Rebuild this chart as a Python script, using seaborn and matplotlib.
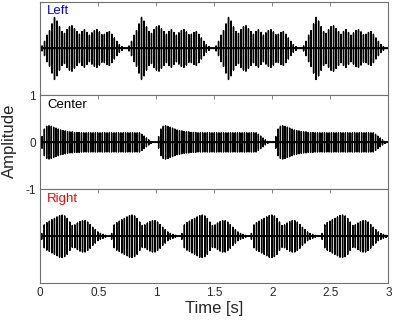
import numpy as np
import pandas as pd
import matplotlib
matplotlib.use("Agg")
import matplotlib.pyplot as plt
import seaborn as sns

# ---- data (per-pulse peak amplitudes of one burst, burst onsets) ----
left_onsets = [0.015, 0.765, 1.515, 2.27]
left_step = 0.0215
left_amps = [0.05, 0.15, 0.28, 0.38, 0.52, 0.66, 0.58, 0.46, 0.36, 0.32, 0.40, 0.46,
             0.48, 0.42, 0.36, 0.30, 0.36, 0.40, 0.34, 0.28, 0.33, 0.38, 0.40, 0.35,
             0.29, 0.30, 0.34, 0.36, 0.30, 0.22, 0.15, 0.08, 0.04]

center_onsets = [0.015, 1.02, 2.03]
center_step = 0.02
center_amps = [0.12, 0.28, 0.34, 0.35, 0.34, 0.32, 0.30, 0.28, 0.26, 0.25, 0.24, 0.23,
               0.22, 0.22, 0.21, 0.21, 0.21, 0.20, 0.20, 0.20, 0.20, 0.20, 0.20, 0.20,
               0.20, 0.20, 0.20, 0.20, 0.20, 0.20, 0.20, 0.20, 0.20, 0.20, 0.20, 0.20,
               0.20, 0.20, 0.20, 0.20, 0.20, 0.20, 0.20, 0.17, 0.13, 0.09, 0.05, 0.02]

right_onsets = [0.012, 0.615, 1.22, 1.82, 2.43]
right_step = 0.022
right_amps = [0.06, 0.24, 0.29, 0.32, 0.35, 0.38, 0.41, 0.44, 0.45, 0.43, 0.38, 0.30,
              0.23, 0.24, 0.28, 0.31, 0.33, 0.33, 0.30, 0.25, 0.19, 0.14, 0.09, 0.06,
              0.04, 0.02]

panel_names = ["Left", "Center", "Right"]
panel_colors = ["#0000ff", "#000000", "#ff0000"]
x_ticks = [0, 0.5, 1, 1.5, 2, 2.5, 3]
x_ticklabels = ["0", "0.5", "1", "1.5", "2", "2.5", "3"]
y_ticks = [-1, 0, 1]
y_ticklabels = ["-1", "0", "1"]
t_end = 3.0


def build(onsets, amps, step):
    t, y = [0.0], [0.0]
    for o in onsets:
        for k, a in enumerate(amps):
            tk = o + k * step
            t += [tk, tk, tk, tk]
            y += [0.0, a, -a, 0.0]
    t.append(t_end)
    y.append(0.0)
    return pd.DataFrame({"t": t, "y": y})


frames = [build(left_onsets, left_amps, left_step),
          build(center_onsets, center_amps, center_step),
          build(right_onsets, right_amps, right_step)]

sns.set_style("white")
plt.rcParams["font.family"] = ["Liberation Sans", "DejaVu Sans"]
plt.rcParams["path.simplify"] = False

fig = plt.figure(figsize=(3.97, 3.26), dpi=100)
left = 40.3 / 397
width = 348 / 397
bottom0 = 1 - 283.3 / 326
h = (283.3 - 1.5) / 3 / 326
spine_col = "#707070"

for i, (df, name, col) in enumerate(zip(frames, panel_names, panel_colors)):
    ax = fig.add_axes([left, bottom0 + (2 - i) * h, width, h])
    sns.lineplot(data=df, x="t", y="y", ax=ax, color="black", lw=1.0,
                 estimator=None, sort=False)
    ax.lines[-1].set_snap(False)
    ax.axhline(0, color="black", lw=1.3, zorder=1)
    ax.set_xlim(0, 3)
    ax.set_ylim(-1, 1)
    ax.set_xticks(x_ticks)
    ax.set_xlabel("")
    ax.set_ylabel("")
    if i == 1:
        ax.set_yticks(y_ticks)
        ax.set_yticklabels(y_ticklabels, fontsize=8.5)
    else:
        ax.set_yticks([])
    if i == 2:
        ax.set_xticklabels(x_ticklabels, fontsize=8.5)
    else:
        ax.set_xticklabels([])
    ax.tick_params(direction="in", top=True, right=True, length=3, width=0.6,
                   color=spine_col, pad=3)
    for s in ax.spines.values():
        s.set_color(spine_col)
        s.set_linewidth(0.8)
    ax.text(0.02, 0.894, name, color=col, fontsize=9.5, transform=ax.transAxes,
            ha="left", va="center")

fig.text(214 / 397, 1 - 309 / 326, "Time [s]", fontsize=12, ha="center", va="center")
fig.text(9 / 397, 1 - 141 / 326, "Amplitude", fontsize=12, ha="center", va="center",
         rotation=90)

fig.savefig("out.png", dpi=100)
